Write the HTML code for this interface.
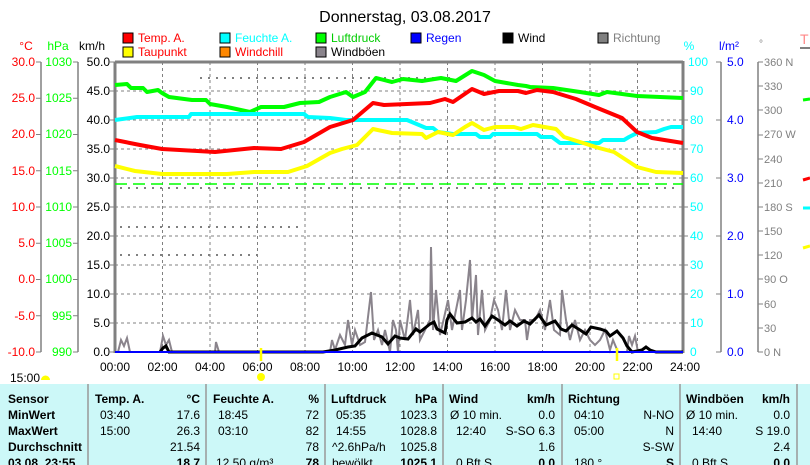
<!DOCTYPE html>
<html><head><meta charset="utf-8"><style>
html,body{margin:0;padding:0;background:#fff;}
svg{display:block;font-family:"Liberation Sans Narrow","Liberation Sans",sans-serif;}
</style></head><body>
<svg width="810" height="465" viewBox="0 0 810 465" xmlns="http://www.w3.org/2000/svg">
<text x="405" y="22" font-size="16" text-anchor="middle" fill="#000">Donnerstag, 03.08.2017</text>
<g font-size="12">
<rect x="123" y="33" width="10" height="10" fill="#f00" stroke="#000"/><text x="138" y="42" fill="#f00">Temp. A.</text>
<rect x="123" y="47" width="10" height="10" fill="#ff0" stroke="#000"/><text x="138" y="56" fill="#f00">Taupunkt</text>
<rect x="220" y="33" width="10" height="10" fill="#0ff" stroke="#000"/><text x="235" y="42" fill="#0ff">Feuchte A.</text>
<rect x="220" y="47" width="10" height="10" fill="#f80" stroke="#000"/><text x="235" y="56" fill="#f00">Windchill</text>
<rect x="316" y="33" width="10" height="10" fill="#0f0" stroke="#000"/><text x="331" y="42" fill="#0c0">Luftdruck</text>
<rect x="316" y="47" width="10" height="10" fill="#8a848c" stroke="#000"/><text x="331" y="56" fill="#000">Windböen</text>
<rect x="411" y="33" width="10" height="10" fill="#00f" stroke="#000"/><text x="426" y="42" fill="#00f">Regen</text>
<rect x="503" y="33" width="10" height="10" fill="#000" stroke="#000"/><text x="518" y="42" fill="#000">Wind</text>
<rect x="598" y="33" width="10" height="10" fill="#808080" stroke="#000"/><text x="613" y="42" fill="#808080">Richtung</text>
</g>
<g font-size="12">
<text x="26" y="50" text-anchor="middle" fill="#f00">°C</text>
<text x="58" y="50" text-anchor="middle" fill="#0f0">hPa</text>
<text x="92" y="50" text-anchor="middle" fill="#000">km/h</text>
<text x="689" y="50" text-anchor="middle" fill="#0ff">%</text>
<text x="729" y="50" text-anchor="middle" fill="#00f">l/m²</text>
<text x="761" y="47" text-anchor="middle" fill="#808080" font-size="10">°</text>
<text x="800" y="44" fill="#f88" font-size="14">T</text>
<line x1="800" y1="48" x2="810" y2="48" stroke="#808080" stroke-width="2"/>
</g>
<g stroke="#808080" stroke-width="1.5">
<line x1="41" y1="62" x2="41" y2="352"/><line x1="78" y1="62" x2="78" y2="352"/>
<line x1="721" y1="62" x2="721" y2="352"/><line x1="758" y1="62" x2="758" y2="352"/>
</g>
<g stroke="#808080">
<line x1="36" y1="62" x2="41" y2="62"/><line x1="36" y1="98.25" x2="41" y2="98.25"/><line x1="36" y1="134.5" x2="41" y2="134.5"/><line x1="36" y1="170.75" x2="41" y2="170.75"/><line x1="36" y1="207" x2="41" y2="207"/><line x1="36" y1="243.25" x2="41" y2="243.25"/><line x1="36" y1="279.5" x2="41" y2="279.5"/><line x1="36" y1="315.75" x2="41" y2="315.75"/><line x1="36" y1="352" x2="41" y2="352"/>
<line x1="73" y1="62" x2="78" y2="62"/><line x1="73" y1="98.25" x2="78" y2="98.25"/><line x1="73" y1="134.5" x2="78" y2="134.5"/><line x1="73" y1="170.75" x2="78" y2="170.75"/><line x1="73" y1="207" x2="78" y2="207"/><line x1="73" y1="243.25" x2="78" y2="243.25"/><line x1="73" y1="279.5" x2="78" y2="279.5"/><line x1="73" y1="315.75" x2="78" y2="315.75"/><line x1="73" y1="352" x2="78" y2="352"/>
<line x1="110" y1="62" x2="115" y2="62"/><line x1="110" y1="91" x2="115" y2="91"/><line x1="110" y1="120" x2="115" y2="120"/><line x1="110" y1="149" x2="115" y2="149"/><line x1="110" y1="178" x2="115" y2="178"/><line x1="110" y1="207" x2="115" y2="207"/><line x1="110" y1="236" x2="115" y2="236"/><line x1="110" y1="265" x2="115" y2="265"/><line x1="110" y1="294" x2="115" y2="294"/><line x1="110" y1="323" x2="115" y2="323"/><line x1="110" y1="352" x2="115" y2="352"/>
<line x1="683" y1="91" x2="688" y2="91"/><line x1="683" y1="120" x2="688" y2="120"/><line x1="683" y1="149" x2="688" y2="149"/><line x1="683" y1="178" x2="688" y2="178"/><line x1="683" y1="207" x2="688" y2="207"/><line x1="683" y1="236" x2="688" y2="236"/><line x1="683" y1="265" x2="688" y2="265"/><line x1="683" y1="294" x2="688" y2="294"/><line x1="683" y1="323" x2="688" y2="323"/>
<line x1="716" y1="62" x2="721" y2="62"/><line x1="716" y1="120" x2="721" y2="120"/><line x1="716" y1="178" x2="721" y2="178"/><line x1="716" y1="236" x2="721" y2="236"/><line x1="716" y1="294" x2="721" y2="294"/><line x1="716" y1="352" x2="721" y2="352"/>
</g>
<g font-size="12" text-anchor="end">
<g fill="#f00">
<text x="35" y="66">30.0</text><text x="35" y="102">25.0</text><text x="35" y="138">20.0</text><text x="35" y="175">15.0</text><text x="35" y="211">10.0</text><text x="35" y="247">5.0</text><text x="35" y="283">0.0</text><text x="35" y="320">-5.0</text><text x="35" y="356">-10.0</text>
</g>
<g fill="#0f0">
<text x="72" y="66">1030</text><text x="72" y="102">1025</text><text x="72" y="138">1020</text><text x="72" y="175">1015</text><text x="72" y="211">1010</text><text x="72" y="247">1005</text><text x="72" y="283">1000</text><text x="72" y="320">995</text><text x="72" y="356">990</text>
</g>
<g fill="#000">
<text x="110" y="66">50.0</text><text x="110" y="95">45.0</text><text x="110" y="124">40.0</text><text x="110" y="153">35.0</text><text x="110" y="182">30.0</text><text x="110" y="211">25.0</text><text x="110" y="240">20.0</text><text x="110" y="269">15.0</text><text x="110" y="298">10.0</text><text x="110" y="327">5.0</text><text x="110" y="356">0.0</text>
</g>
</g>
<g font-size="12" fill="#0ff">
<text x="688" y="66">100</text><text x="690" y="95">90</text><text x="690" y="124">80</text><text x="690" y="153">70</text><text x="690" y="182">60</text><text x="690" y="211">50</text><text x="690" y="240">40</text><text x="690" y="269">30</text><text x="690" y="298">20</text><text x="690" y="327">10</text><text x="690" y="356">0</text>
</g>
<g stroke="#808080" stroke-width="1" stroke-dasharray="3,3">
<line x1="162.5" y1="62" x2="162.5" y2="352"/><line x1="210" y1="62" x2="210" y2="352"/><line x1="257.5" y1="62" x2="257.5" y2="352"/><line x1="305" y1="62" x2="305" y2="352"/><line x1="352.5" y1="62" x2="352.5" y2="352"/><line x1="400" y1="62" x2="400" y2="352"/><line x1="447.5" y1="62" x2="447.5" y2="352"/><line x1="495" y1="62" x2="495" y2="352"/><line x1="542.5" y1="62" x2="542.5" y2="352"/><line x1="590" y1="62" x2="590" y2="352"/><line x1="637.5" y1="62" x2="637.5" y2="352"/>
<line x1="115" y1="91" x2="683" y2="91"/><line x1="115" y1="120" x2="683" y2="120"/><line x1="115" y1="149" x2="683" y2="149"/><line x1="115" y1="178" x2="683" y2="178"/><line x1="115" y1="207" x2="683" y2="207"/><line x1="115" y1="236" x2="683" y2="236"/><line x1="115" y1="265" x2="683" y2="265"/><line x1="115" y1="294" x2="683" y2="294"/><line x1="115" y1="323" x2="683" y2="323"/>
</g>
<g stroke="#808080" stroke-width="2" stroke-dasharray="2,6">
<line x1="120" y1="188" x2="680" y2="188"/><line x1="120" y1="227" x2="300" y2="227"/><line x1="120" y1="255" x2="260" y2="255"/><line x1="200" y1="78" x2="450" y2="78"/>
</g>
<g stroke="#808080" stroke-width="3" fill="none">
<line x1="115" y1="62" x2="683" y2="62"/><line x1="115" y1="62" x2="115" y2="353"/><line x1="683" y1="61" x2="683" y2="353"/>
</g>
<line x1="115" y1="184" x2="683" y2="184" stroke="#0f0" stroke-width="1.5" stroke-dasharray="12,6"/>
<polyline fill="none" stroke="#8a848c" stroke-width="2" points="118,352 121,340 124,346 127,338 130,352 160,352 163,336 166,345 169,340 172,352 200,352 215,352 216,342 219,352 230,352 330,352 332,340 335,350 340,335 345,345 348,320 352,345 355,330 360,345 365,342 371,292 374,340 378,330 382,345 385,330 390,352 393,320 396,330 398,352 400,320 405,340 410,300 413,335 418,310 420,340 425,330 430,320 431,247 433,330 436,290 440,335 444,318 448,300 452,330 456,310 460,290 462,330 466,300 470,260 472,320 476,275 478,335 482,290 485,330 490,320 494,300 498,310 502,330 506,290 510,330 515,310 520,320 525,320 527,340 530,320 535,320 540,310 545,330 550,300 554,330 560,335 562,290 566,320 570,340 575,320 580,340 585,330 590,340 595,345 600,340 605,330 610,350 613,340 618,352 627,352 629,336 632,345 635,336 638,352 683,352"/>
<polyline fill="none" stroke="#000" stroke-width="3" points="160,352 163,348 166,346 169,352 230,352 300,352 323,352 335,350 348,347 355,346 362,338 372,333 382,337 388,344 395,336 400,338 408,339 416,329 420,332 430,324 434,322 437,329 445,333 447,320 450,314 457,323 465,322 472,318 476,322 480,319 485,326 492,316 498,320 505,325 510,321 517,326 524,321 530,324 539,315 546,325 555,321 561,329 566,331 572,325 580,330 586,334 591,327 600,329 606,331 610,336 617,331 623,338 627,346 632,352 642,350 646,347 650,350 656,352 683,352"/>
<line x1="115" y1="352" x2="683" y2="352" stroke="#00f" stroke-width="2"/>
<g fill="none" stroke-width="4" stroke-linejoin="round">
<polyline stroke="#0f0" points="115,85 127,84 131,88 143,88 147,92 158,90 162,93 169,97 192,100 206,100 210,104 227,107 250,112 261,107 284,107 300,103 319,102 330,97 346,92 353,97 365,92 376,78 392,82 403,79 422,81 441,78 456,81 472,71 484,75 495,81 518,85 526,86 530,87 553,88 580,92 599,95 607,92 637,96 660,97 683,98"/>
<polyline stroke="#0ff" points="115,120 137,117 189,117 191,114 304,114 308,117 330,118 346,120 407,120 419,125 426,128 433,128 438,132 453,134 476,134 480,137 490,137 493,134 537,134 541,137 552,137 560,143 599,143 603,140 624,140 629,137 637,133 656,132 664,129 671,127 683,127"/>
<polyline stroke="#ff0" points="115,166 135,171 162,174 227,174 254,172 288,172 307,166 330,153 342,149 357,145 373,129 392,133 422,134 426,138 438,132 453,135 465,127 472,123 484,130 495,127 514,127 521,129 533,125 556,129 564,137 599,148 614,152 637,167 656,172 683,173"/>
<polyline stroke="#f00" points="115,140 140,145 162,149 215,152 254,148 281,149 304,142 330,127 353,120 373,103 384,105 430,103 445,99 453,102 472,89 484,94 499,91 518,91 526,93 537,90 553,92 576,99 595,107 622,118 637,132 652,138 683,143"/>
</g>
<g font-size="12" fill="#00f">
<text x="727" y="66">5.0</text><text x="727" y="124">4.0</text><text x="727" y="182">3.0</text><text x="727" y="240">2.0</text><text x="727" y="298">1.0</text><text x="727" y="356">0.0</text>
</g>
<g font-size="11" fill="#808080">
<text x="764" y="66">360 N</text><text x="764" y="90">330</text><text x="764" y="114">300</text><text x="764" y="138">270 W</text><text x="764" y="163">240</text><text x="764" y="187">210</text><text x="764" y="211">180 S</text><text x="764" y="235">150</text><text x="764" y="259">120</text><text x="764" y="283">90  O</text><text x="764" y="308">60</text><text x="764" y="332">30</text><text x="764" y="356">0   N</text>
</g>
<g stroke="#808080">
<line x1="758" y1="62" x2="763" y2="62"/><line x1="758" y1="86" x2="763" y2="86"/><line x1="758" y1="110" x2="763" y2="110"/><line x1="758" y1="135" x2="763" y2="135"/><line x1="758" y1="159" x2="763" y2="159"/><line x1="758" y1="183" x2="763" y2="183"/><line x1="758" y1="207" x2="763" y2="207"/><line x1="758" y1="231" x2="763" y2="231"/><line x1="758" y1="255" x2="763" y2="255"/><line x1="758" y1="279" x2="763" y2="279"/><line x1="758" y1="304" x2="763" y2="304"/><line x1="758" y1="328" x2="763" y2="328"/><line x1="758" y1="352" x2="763" y2="352"/>
</g>
<g stroke-width="3">
<line x1="803" y1="100" x2="810" y2="99" stroke="#0f0"/><line x1="803" y1="180" x2="810" y2="178" stroke="#f00"/><line x1="803" y1="208" x2="810" y2="208" stroke="#0ff"/><line x1="803" y1="248" x2="810" y2="246" stroke="#ff0"/>
</g>
<g font-size="12" text-anchor="middle" fill="#000">
<text x="115" y="371">00:00</text><text x="162.5" y="371">02:00</text><text x="210" y="371">04:00</text><text x="257.5" y="371">06:00</text><text x="305" y="371">08:00</text><text x="352.5" y="371">10:00</text><text x="400" y="371">12:00</text><text x="447.5" y="371">14:00</text><text x="495" y="371">16:00</text><text x="542.5" y="371">18:00</text><text x="590" y="371">20:00</text><text x="637.5" y="371">22:00</text><text x="685" y="371">24:00</text>
</g>
<line x1="261" y1="348" x2="261" y2="361" stroke="#ff0" stroke-width="2.5"/>
<line x1="617" y1="348" x2="617" y2="361" stroke="#ff0" stroke-width="2.5"/>
<circle cx="261" cy="377" r="4" fill="#ff0"/>
<rect x="614" y="374" width="5" height="5" fill="none" stroke="#ff0"/>
<text x="10" y="382" font-size="12" fill="#000">15:00</text>
<path d="M41,380 a4,4 0 0 1 9,0 z" fill="#ff0"/>
<rect x="0" y="384" width="810" height="81" fill="#ccf8f8"/>
<g stroke="#999" stroke-width="1.5">
<line x1="88" y1="384" x2="88" y2="465"/><line x1="206" y1="384" x2="206" y2="465"/><line x1="325" y1="384" x2="325" y2="465"/><line x1="443" y1="384" x2="443" y2="465"/><line x1="562" y1="384" x2="562" y2="465"/><line x1="680" y1="384" x2="680" y2="465"/><line x1="797" y1="384" x2="797" y2="465"/>
</g>
<g font-size="12" fill="#000">
<g font-weight="bold">
<text x="8" y="403">Sensor</text><text x="8" y="419">MinWert</text><text x="8" y="435">MaxWert</text><text x="8" y="451">Durchschnitt</text><text x="8" y="467">03.08. 23:55</text>
<text x="95" y="403">Temp. A.</text><text x="200" y="403" text-anchor="end">°C</text>
<text x="213" y="403">Feuchte A.</text><text x="319" y="403" text-anchor="end">%</text>
<text x="331" y="403">Luftdruck</text><text x="437" y="403" text-anchor="end">hPa</text>
<text x="449" y="403">Wind</text><text x="555" y="403" text-anchor="end">km/h</text>
<text x="568" y="403">Richtung</text>
<text x="686" y="403">Windböen</text><text x="790" y="403" text-anchor="end">km/h</text>
<text x="200" y="467" text-anchor="end">18.7</text><text x="319" y="467" text-anchor="end">78</text><text x="437" y="467" text-anchor="end">1025.1</text><text x="555" y="467" text-anchor="end">0.0</text><text x="674" y="467" text-anchor="end">S</text><text x="790" y="467" text-anchor="end">0.0</text>
</g>
<text x="100" y="419">03:40</text><text x="200" y="419" text-anchor="end">17.6</text>
<text x="100" y="435">15:00</text><text x="200" y="435" text-anchor="end">26.3</text>
<text x="200" y="451" text-anchor="end">21.54</text>
<text x="218" y="419">18:45</text><text x="319" y="419" text-anchor="end">72</text>
<text x="218" y="435">03:10</text><text x="319" y="435" text-anchor="end">82</text>
<text x="319" y="451" text-anchor="end">78</text>
<text x="216" y="467">12.50 g/m³</text>
<text x="336" y="419">05:35</text><text x="437" y="419" text-anchor="end">1023.3</text>
<text x="336" y="435">14:55</text><text x="437" y="435" text-anchor="end">1028.8</text>
<text x="332" y="451">^2.6hPa/h</text><text x="437" y="451" text-anchor="end">1025.8</text>
<text x="332" y="467">bewölkt</text>
<text x="450" y="419">Ø 10 min.</text><text x="555" y="419" text-anchor="end">0.0</text>
<text x="456" y="435">12:40</text><text x="555" y="435" text-anchor="end">S-SO 6.3</text>
<text x="555" y="451" text-anchor="end">1.6</text>
<text x="456" y="467">0 Bft S</text>
<text x="574" y="419">04:10</text><text x="674" y="419" text-anchor="end">N-NO</text>
<text x="574" y="435">05:00</text><text x="674" y="435" text-anchor="end">N</text>
<text x="674" y="451" text-anchor="end">S-SW</text>
<text x="574" y="467">180 °</text>
<text x="686" y="419">Ø 10 min.</text><text x="790" y="419" text-anchor="end">0.0</text>
<text x="692" y="435">14:40</text><text x="790" y="435" text-anchor="end">S 19.0</text>
<text x="790" y="451" text-anchor="end">2.4</text>
<text x="692" y="467">0 Bft S</text>
</g>
</svg>
</body></html>
